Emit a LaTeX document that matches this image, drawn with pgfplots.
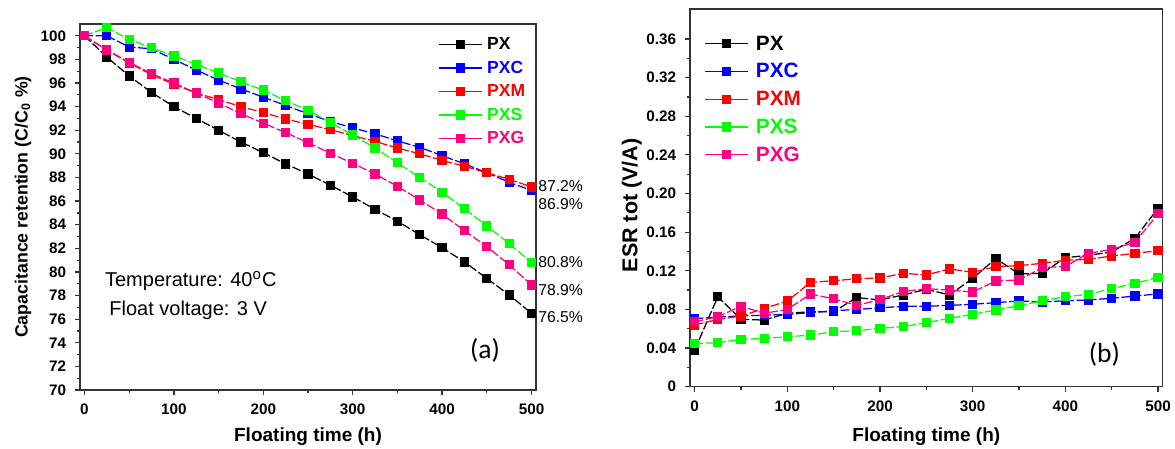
\documentclass[border=0pt]{standalone}
\usepackage{pgfplots}
\pgfplotsset{compat=1.18}
\usepackage{pgfplotstable}
\usepackage{fontspec}
\setmainfont{Liberation Sans}
\newfontfamily\calibri{Carlito}
\definecolor{cpx}{HTML}{000000}
\definecolor{cpxc}{HTML}{0000FF}
\definecolor{cpxm}{HTML}{FF0000}
\definecolor{cpxs}{HTML}{00FF00}
\definecolor{cpxg}{HTML}{FF0080}

% capacitance retention (%)
\pgfplotstableread{
h    PX     PXC    PXM    PXS    PXG
0    100    100    100    100    100
25   98.2   100.0  98.8   100.7  98.8
50   96.6   99.05  97.7   99.7   97.75
75   95.2   98.9   96.7   99.0   96.8
100  94.0   98.0   95.9   98.3   96.0
125  93.0   97.1   95.15  97.6   95.15
150  92.0   96.25  94.6   96.85  94.3
175  91.0   95.5   94.0   96.1   93.4
200  90.1   94.8   93.5   95.4   92.6
225  89.15  94.1   92.95  94.5   91.8
250  88.3   93.4   92.5   93.7   90.95
275  87.35  92.75  92.05  92.65  90.05
300  86.35  92.2   91.55  91.6   89.2
325  85.3   91.7   91.05  90.5   88.3
350  84.3   91.1   90.5   89.25  87.25
375  83.15  90.55  90.0   88.0   86.1
400  82.05  89.85  89.45  86.75  84.9
425  80.85  89.15  88.95  85.35  83.5
450  79.45  88.4   88.4   83.9   82.15
475  78.05  87.6   87.85  82.4   80.6
500  76.5   86.9   87.2   80.8   78.9
}\captab

% ESR tot (V/A)
\pgfplotstableread{
h    PX      PXC     PXM     PXS     PXG
0    0.038   0.0705  0.0638  0.0448  0.0672
25   0.093   0.072   0.0697  0.0455  0.0724
50   0.0697  0.0734  0.0731  0.049   0.0834
75   0.069   0.074   0.081   0.050   0.0759
100  0.076   0.0748  0.0886  0.0517  0.080
125  0.0776  0.0766  0.108   0.0534  0.0959
150  0.0776  0.0786  0.1097  0.0569  0.091
175  0.0924  0.080   0.1117  0.058   0.0841
200  0.0897  0.0816  0.1125  0.0604  0.0903
225  0.095   0.0832  0.1174  0.0622  0.0984
250  0.1008  0.0832  0.1157  0.0663  0.1015
275  0.095   0.0842  0.1219  0.0708  0.100
300  0.1122  0.0853  0.1184  0.075   0.098
325  0.1326  0.087   0.1243  0.0794  0.1095
350  0.1167  0.0887  0.1253  0.0839  0.1105
375  0.1174  0.0878  0.1277  0.089   0.1232
400  0.1336  0.089   0.1308  0.0932  0.1246
425  0.136   0.0898  0.1319  0.0956  0.138
450  0.1395  0.0915  0.1353  0.1015  0.1422
475  0.1536  0.0939  0.138   0.107   0.1495
500  0.1847  0.096   0.1408  0.1132  0.179
}\esrtab

\pgfplotsset{
  panel/.style={
    scale only axis,
    anchor=south west,
    xmin=-5, xmax=505,
    xtick={0,100,...,500},
    minor x tick num=1,
    tick align=outside,
    xtick pos=left, ytick pos=left,
    major tick length=2pt, minor tick length=1.3pt,
    axis line style={line width=0.6pt, black!80},
    tick style={line width=0.5pt, black!80},
    /pgf/number format/assume math mode=true,
    tick label style={font=\bfseries\fontsize{6.1}{7}\selectfont},
    label style={font=\bfseries\fontsize{7.6}{8}\selectfont},
    legend cell align=left,
    legend style={draw=none, fill=none, inner sep=0pt,
      font=\bfseries\fontsize{7}{8}\selectfont,
      nodes={inner xsep=2pt, inner ysep=0pt, text height=5.2pt, text depth=0.8pt}},
    legend image code/.code={
      \draw[mark repeat=2,mark phase=2,#1,solid] plot coordinates {(0pt,0pt) (8.5pt,0pt) (17pt,0pt)};
    },
    every axis plot/.append style={line width=0.5pt, dash pattern=on 3.5pt off 1pt,
      mark=square*, mark size=1.6pt, mark options={solid}},
  },
}

\begin{document}
\begin{tikzpicture}
\useasboundingbox (0,0) rectangle (470pt,179.2pt);

% (a) capacitance retention
\begin{axis}[panel,
  at={(32pt,23.2pt)},
  width=182.4pt, height=146.4pt,
  ymin=70, ymax=101,
  ytick={70,72,...,100},
  minor y tick num=1,
  clip=false,
  xlabel={Floating time (h)},
  ylabel={Capacitance retention (C/C\textsubscript{0} \%)},
  xlabel style={at={(axis description cs:0.5,-0.128)}, anchor=center},
  ylabel style={at={(axis description cs:-0.125,0.5)}, anchor=center,
    font=\bfseries\fontsize{7.1}{8}\selectfont},
  legend style={at={(axis description cs:0.785,0.966)}, anchor=north west, row sep=3.4pt},
]
\addplot[cpx]  table[x=h, y=PX]  {\captab};
\addlegendentry{\textcolor{cpx}{PX}}
\addplot[cpxc] table[x=h, y=PXC] {\captab};
\addlegendentry{\textcolor{cpxc}{PXC}}
\addplot[cpxm] table[x=h, y=PXM] {\captab};
\addlegendentry{\textcolor{cpxm}{PXM}}
\addplot[cpxs] table[x=h, y=PXS] {\captab};
\addlegendentry{\textcolor{cpxs}{PXS}}
\addplot[cpxg] table[x=h, y=PXG] {\captab};
\addlegendentry{\textcolor{cpxg}{PXG}}
\begin{scope}[every node/.style={font=\fontsize{6.3}{7}\selectfont, anchor=west, inner sep=0pt}]
\node at (axis cs:507,87.25) {87.2\%};
\node at (axis cs:507,85.75) {86.9\%};
\node at (axis cs:507,80.87) {80.8\%};
\node at (axis cs:507,78.45) {78.9\%};
\node at (axis cs:507,76.2) {76.5\%};
\end{scope}
\node[font=\fontsize{8}{9}\selectfont] at (axis cs:119,79.2) {Temperature: 40\textsuperscript{o}C};
\node[font=\fontsize{8}{9}\selectfont] at (axis cs:116,76.75) {Float voltage: 3 V};
\node[font=\calibri\fontsize{11}{12}\selectfont] at (axis cs:448,73.4) {(a)};
\end{axis}

% (b) ESR
\begin{axis}[panel,
  at={(276pt,24.52pt)},
  width=189.08pt, height=151.08pt,
  ymin=0, ymax=0.391,
  ytick={0,0.04,0.08,0.12,0.16,0.20,0.24,0.28,0.32,0.36},
  yticklabels={0,0.04,0.08,0.12,0.16,0.20,0.24,0.28,0.32,0.36},
  minor y tick num=1,
  xlabel={Floating time (h)},
  ylabel={ESR tot (V/A)},
  xlabel style={at={(axis description cs:0.5,-0.133)}, anchor=center},
  ylabel style={at={(axis description cs:-0.123,0.48)}, anchor=center,
    font=\bfseries\fontsize{8.6}{9}\selectfont},
  legend style={at={(axis description cs:0.03,0.932)}, anchor=north west, row sep=4.3pt,
    font=\bfseries\fontsize{8.3}{9}\selectfont,
    nodes={inner xsep=3pt, text height=6pt, text depth=0.8pt}},
]
\addplot[cpx]  table[x=h, y=PX]  {\esrtab};
\addlegendentry{\textcolor{cpx}{PX}}
\addplot[cpxc] table[x=h, y=PXC] {\esrtab};
\addlegendentry{\textcolor{cpxc}{PXC}}
\addplot[cpxm] table[x=h, y=PXM] {\esrtab};
\addlegendentry{\textcolor{cpxm}{PXM}}
\addplot[cpxs] table[x=h, y=PXS] {\esrtab};
\addlegendentry{\textcolor{cpxs}{PXS}}
\addplot[cpxg] table[x=h, y=PXG] {\esrtab};
\addlegendentry{\textcolor{cpxg}{PXG}}
\node[font=\calibri\fontsize{11}{12}\selectfont] at (axis cs:442,0.033) {(b)};
\end{axis}
\end{tikzpicture}
\end{document}
